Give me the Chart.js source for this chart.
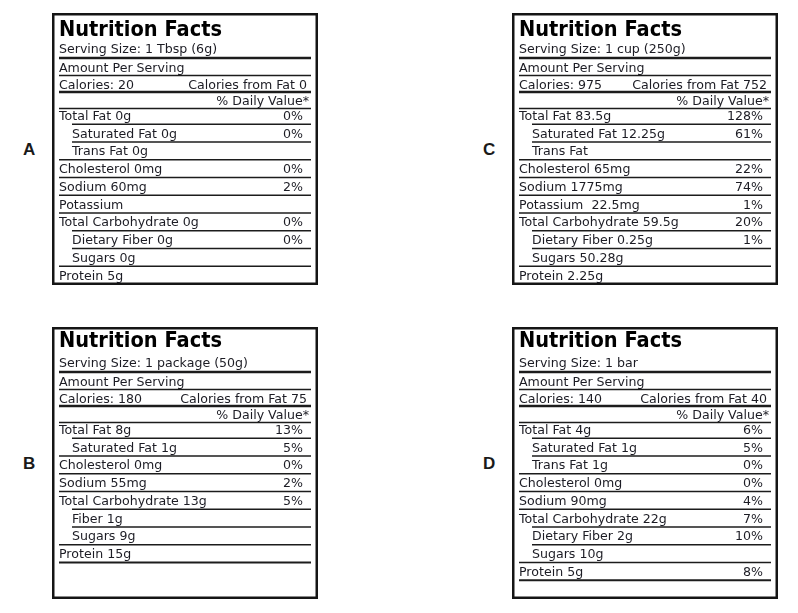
<!DOCTYPE html>
<html>
<head>
<meta charset="utf-8">
<script src="https://cdn.jsdelivr.net/npm/chart.js@4.4.1/dist/chart.umd.min.js"></script>
<style>
    body { margin: 0; background: #fff; width: 798px; height: 613px; position: relative; overflow: hidden; }
    .panel { position: absolute; width: 266px; height: 272px; }
    .letter { position: absolute; font: bold 17px "Liberation Sans", Arial, sans-serif; line-height: 17px; color: #1a1a1a; }
</style>
</head>
<body>

<div class="letter" style="left:23px;top:141px">A</div>
<div class="letter" style="left:23px;top:455px">B</div>
<div class="letter" style="left:483px;top:141px">C</div>
<div class="letter" style="left:483px;top:455px">D</div>

<div class="panel" style="left:52px;top:13px"><canvas id="labelA" width="266" height="272"></canvas></div>
<div class="panel" style="left:52px;top:327px"><canvas id="labelB" width="266" height="272"></canvas></div>
<div class="panel" style="left:512px;top:13px"><canvas id="labelC" width="266" height="272"></canvas></div>
<div class="panel" style="left:512px;top:327px"><canvas id="labelD" width="266" height="272"></canvas></div>

<script>
// datos de las cuatro etiquetas (A, B, C, D)
const servingSizes = ["1 Tbsp (6g)", "1 package (50g)", "1 cup (250g)", "1 bar"];
const calories = [20, 180, 975, 140];
const caloriesFromFat = [0, 75, 752, 40];

const nutrientsA = ["Total Fat 0g", "Saturated Fat 0g", "Trans Fat 0g", "Cholesterol 0mg", "Sodium 60mg",
    "Potassium", "Total Carbohydrate 0g", "Dietary Fiber 0g", "Sugars 0g", "Protein 5g"];
const dailyA = [0, 0, null, 0, 2, null, 0, 0, null, null];

const nutrientsB = ["Total Fat 8g", "Saturated Fat 1g", "Cholesterol 0mg", "Sodium 55mg",
    "Total Carbohydrate 13g", "Fiber 1g", "Sugars 9g", "Protein 15g"];
const dailyB = [13, 5, 0, 2, 5, null, null, null];

const nutrientsC = ["Total Fat 83.5g", "Saturated Fat 12.25g", "Trans Fat", "Cholesterol 65mg", "Sodium 1775mg",
    "Potassium  22.5mg", "Total Carbohydrate 59.5g", "Dietary Fiber 0.25g", "Sugars 50.28g", "Protein 2.25g"];
const dailyC = [128, 61, null, 22, 74, 1, 20, 1, null, null];

const nutrientsD = ["Total Fat 4g", "Saturated Fat 1g", "Trans Fat 1g", "Cholesterol 0mg", "Sodium 90mg",
    "Total Carbohydrate 22g", "Dietary Fiber 2g", "Sugars 10g", "Protein 5g"];
const dailyD = [6, 5, 0, 0, 4, 7, 10, null, 8];

// filas que van con sangria
const SUB_ROWS = ["Saturated Fat", "Trans Fat", "Dietary Fiber", "Fiber", "Sugars"];
function esSub(nombre) {
    return SUB_ROWS.some(s => nombre.startsWith(s));
}

const HEADER = 93.5;
const PITCH = 17.75;
const FONT = '12.6px "DejaVu Sans"';
const INK = "#1c1c24";

const etiquetaPlugin = {
    id: "etiqueta",
    afterDraw(chart) {
        const ctx = chart.ctx;
        const w = chart.width, h = chart.height;
        const cfg = chart.options.plugins.etiqueta;
        const y = chart.scales.y;
        const nombres = chart.data.labels;
        const valores = chart.data.datasets[0].data;
        const L = 7, R = w - 7, IND = 20;

        const linea = (yy, grosor, x0) => {
            ctx.lineWidth = grosor;
            ctx.strokeStyle = "#1c1c1c";
            ctx.beginPath();
            ctx.moveTo(x0, yy);
            ctx.lineTo(R, yy);
            ctx.stroke();
        };

        ctx.save();

        // marco
        ctx.strokeStyle = "#151515";
        ctx.lineWidth = 2.5;
        ctx.strokeRect(1.25, 1.25, w - 2.5, h - 2.5);

        // cabecera
        ctx.textBaseline = "alphabetic";
        ctx.textAlign = "left";
        ctx.fillStyle = "#000";
        ctx.font = 'bold 22px "DejaVu Sans"';
        ctx.fillText("Nutrition Facts", L, cfg.titleY, 163);

        ctx.fillStyle = INK;
        ctx.font = FONT;
        ctx.fillText("Serving Size: " + cfg.serving, L, 39.5);
        linea(45, 2.5, L);
        ctx.fillText("Amount Per Serving", L, 59);
        linea(62.5, 1.6, L);
        ctx.fillText("Calories: " + cfg.calories, L, 76);
        ctx.textAlign = "right";
        ctx.fillText("Calories from Fat " + cfg.fromFat, w - 11, 76);
        linea(79, 2.5, L);
        ctx.fillText("% Daily Value*", w - 9, 92);
        linea(95.5, 1.6, L);

        // filas de nutrientes, posicionadas con la escala y
        nombres.forEach((nombre, i) => {
            const c = y.getPixelForValue(i);
            const base = c + 4.4;
            ctx.textAlign = "left";
            ctx.fillText(nombre, esSub(nombre) ? IND : L, base);
            if (valores[i] !== null) {
                ctx.textAlign = "right";
                ctx.fillText(valores[i] + "%", w - 15, base);
            }
            const abajo = c + PITCH / 2;
            if (i < nombres.length - 1) {
                linea(abajo, 1.6, esSub(nombres[i + 1]) ? IND : L);
            } else if (abajo < h - 4) {
                linea(abajo, 2.2, L);
            }
        });

        ctx.restore();
    }
};

function crearEtiqueta(id, idx, nombres, valores, titleY) {
    const canvas = document.getElementById(id);
    return new Chart(canvas, {
        type: "bar",
        data: {
            labels: nombres,
            datasets: [{
                data: valores,
                backgroundColor: "rgba(0,0,0,0)",
                borderWidth: 0
            }]
        },
        options: {
            indexAxis: "y",
            responsive: false,
            animation: false,
            events: [],
            layout: {
                padding: { top: HEADER, bottom: canvas.height - HEADER - nombres.length * PITCH, left: 0, right: 0 }
            },
            scales: {
                x: { display: false, min: 0, max: 150 },
                y: { type: "category", display: false, offset: true }
            },
            plugins: {
                legend: { display: false },
                tooltip: { enabled: false },
                etiqueta: {
                    serving: servingSizes[idx],
                    calories: calories[idx],
                    fromFat: caloriesFromFat[idx],
                    titleY: titleY
                }
            }
        },
        plugins: [etiquetaPlugin]
    });
}

crearEtiqueta("labelA", 0, nutrientsA, dailyA, 23);
crearEtiqueta("labelB", 1, nutrientsB, dailyB, 19.5);
crearEtiqueta("labelC", 2, nutrientsC, dailyC, 23);
crearEtiqueta("labelD", 3, nutrientsD, dailyD, 19.5);
</script>
</body>
</html>
